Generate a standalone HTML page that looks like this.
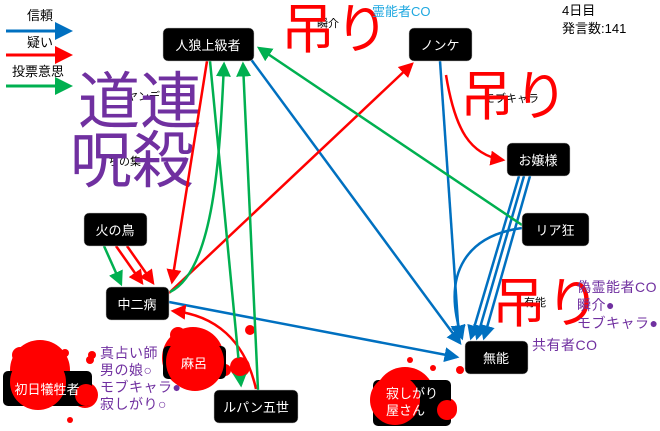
<!DOCTYPE html>
<html><head><meta charset="utf-8"><style>
body{margin:0;background:#fff;}
svg text{font-family:"Liberation Sans","Noto Sans CJK JP",sans-serif;}
</style></head><body>
<svg width="660" height="426" viewBox="0 0 660 426" xmlns="http://www.w3.org/2000/svg">
<defs>
<marker id="b" markerWidth="6" markerHeight="6" refX="5" refY="3" orient="auto" markerUnits="strokeWidth"><path d="M0,0 L6,3 L0,6z" fill="#0070c0"/></marker>
<marker id="r" markerWidth="6" markerHeight="6" refX="5" refY="3" orient="auto" markerUnits="strokeWidth"><path d="M0,0 L6,3 L0,6z" fill="#ff0000"/></marker>
<marker id="g" markerWidth="6" markerHeight="6" refX="5" refY="3" orient="auto" markerUnits="strokeWidth"><path d="M0,0 L6,3 L0,6z" fill="#00b050"/></marker>
</defs>
<g font-size="13" fill="#000">
<text x="27" y="20">信頼</text><text x="27" y="47">疑い</text><text x="12" y="76">投票意思</text>
</g>
<line x1="6" y1="31" x2="70" y2="31" stroke="#0070c0" stroke-width="3" marker-end="url(#b)"/>
<line x1="6" y1="55" x2="70" y2="55" stroke="#ff0000" stroke-width="3" marker-end="url(#r)"/>
<line x1="6" y1="86" x2="70" y2="86" stroke="#00b050" stroke-width="3" marker-end="url(#g)"/>

<g font-size="11" fill="#000">
<text x="127" y="100">ヤンデ</text><text x="108" y="165">ちの集</text>
<text x="317" y="27">瞬介</text><text x="484" y="102">モブキャラ</text><text x="524" y="306">有能</text>
</g>
<g font-size="62" fill="#7030a0"><text x="78" y="123">道連</text><text x="70" y="182">呪殺</text></g>
<g font-size="54" fill="#ff0000"><text x="281" y="48">吊り</text><text x="460" y="115">吊り</text><text x="492" y="322">吊り</text></g>

<g fill="#ff0000">
<circle cx="40" cy="370" r="30"/><circle cx="85" cy="395" r="13"/><circle cx="20" cy="355" r="8"/><circle cx="38" cy="345" r="4"/><circle cx="65" cy="353" r="4"/><circle cx="92" cy="355" r="4"/><circle cx="70" cy="420" r="3"/>
<circle cx="193" cy="358" r="31"/><circle cx="178" cy="335" r="8"/><circle cx="225" cy="370" r="6"/><circle cx="240" cy="367" r="10"/><circle cx="90" cy="360" r="4"/><circle cx="250" cy="330" r="5"/>
<circle cx="405" cy="397" r="30"/><circle cx="447" cy="408" r="10"/><circle cx="460" cy="370" r="4"/><circle cx="433" cy="368" r="3"/><circle cx="410" cy="360" r="3"/>
</g>

<g fill="none" stroke-width="2.5">
<line x1="250" y1="58" x2="460" y2="343" stroke="#0070c0" marker-end="url(#b)"/>
<line x1="440" y1="61" x2="459" y2="338" stroke="#0070c0" marker-end="url(#b)"/>
<line x1="519" y1="176" x2="471" y2="338" stroke="#0070c0" marker-end="url(#b)"/>
<line x1="524" y1="176" x2="477" y2="338" stroke="#0070c0" marker-end="url(#b)"/>
<line x1="530" y1="176" x2="484" y2="338" stroke="#0070c0" marker-end="url(#b)"/>
<path d="M522,228 C470,235 440,270 462,338" stroke="#0070c0" marker-end="url(#b)"/>
<line x1="169" y1="302" x2="457" y2="357" stroke="#0070c0" marker-end="url(#b)"/>

<line x1="207" y1="61" x2="172" y2="282" stroke="#ff0000" marker-end="url(#r)"/>
<line x1="169" y1="293" x2="412" y2="64" stroke="#ff0000" marker-end="url(#r)"/>
<path d="M446,75 C455,130 470,155 503,160" stroke="#ff0000" marker-end="url(#r)"/>
<line x1="116" y1="246" x2="142" y2="283" stroke="#ff0000" marker-end="url(#r)"/>
<line x1="127" y1="246" x2="153" y2="283" stroke="#ff0000" marker-end="url(#r)"/>
<path d="M256,389 C245,340 215,315 173,311" stroke="#ff0000" marker-end="url(#r)"/>

<line x1="104" y1="246" x2="121" y2="284" stroke="#00b050" marker-end="url(#g)"/>
<path d="M170,292 C215,270 220,150 224,64" stroke="#00b050" marker-end="url(#g)"/>
<line x1="210" y1="61" x2="241" y2="385" stroke="#00b050" marker-end="url(#g)"/>
<line x1="258" y1="390" x2="243" y2="64" stroke="#00b050" marker-end="url(#g)"/>
<line x1="522" y1="225" x2="259" y2="48" stroke="#00b050" marker-end="url(#g)"/>
</g>

<g fill="#000" stroke="#bbb" stroke-width="0.5">
<rect x="163" y="28" width="91" height="33" rx="5"/>
<rect x="409" y="28" width="63" height="33" rx="5"/>
<rect x="507" y="143" width="63" height="33" rx="5"/>
<rect x="522" y="213" width="67" height="33" rx="5"/>
<rect x="465" y="341" width="63" height="33" rx="5"/>
<rect x="84" y="213" width="63" height="33" rx="5"/>
<rect x="106" y="287" width="63" height="33" rx="5"/>
<rect x="214" y="390" width="84" height="33" rx="5"/>
</g>
<g fill="#000"><rect x="3" y="371" width="89" height="35" rx="5"/><rect x="163" y="346" width="63" height="33" rx="5"/><rect x="373" y="380" width="78" height="46" rx="5"/></g>
<g fill="#ff0000"><circle cx="38" cy="382" r="28"/><circle cx="86" cy="395" r="11"/><circle cx="195" cy="362" r="29"/><circle cx="395" cy="400" r="25"/><circle cx="447" cy="410" r="10"/><circle cx="240" cy="367" r="9"/></g>

<g font-size="13" fill="#fff" text-anchor="middle">
<text x="208" y="50">人狼上級者</text>
<text x="440" y="50">ノンケ</text>
<text x="538" y="165">お嬢様</text>
<text x="555" y="235">リア狂</text>
<text x="496" y="363">無能</text>
<text x="115" y="235">火の鳥</text>
<text x="137" y="309">中二病</text>
<text x="256" y="412">ルパン五世</text>
<text x="47" y="394">初日犠牲者</text>
<text x="194" y="368">麻呂</text>
</g>
<g font-size="13" fill="#fff"><text x="386" y="398">寂しがり</text><text x="386" y="415">屋さん</text></g>

<g font-size="14" fill="#7030a0" letter-spacing="0.5">
<text x="100" y="358">真占い師</text><text x="100" y="375">男の娘○</text><text x="100" y="392">モブキャラ●</text><text x="100" y="409">寂しがり○</text>
<text x="577" y="292">偽霊能者CO</text><text x="577" y="310">瞬介●</text><text x="577" y="328">モブキャラ●</text><text x="532" y="350">共有者CO</text>
</g>
<text x="372" y="16" font-size="13" fill="#1fa8e0">霊能者CO</text>
<g font-size="13" fill="#000"><text x="562" y="15">4日目</text><text x="562" y="33">発言数:141</text></g>
</svg>
</body></html>
